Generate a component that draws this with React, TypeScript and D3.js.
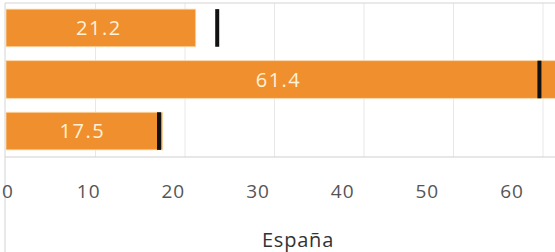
import React, { useEffect, useRef } from 'react';
import * as d3 from 'd3';

// data
const categories = ['A', 'B', 'C'];
const values = [21.2, 61.4, 17.5];
const targets = [23.6, 59.6, 17.1];
const tickValues = [0, 10, 20, 30, 40, 50, 60];
const axisTitle = 'España';

const W = 555;
const H = 252;

const App = () => {
  const ref = useRef<SVGSVGElement | null>(null);

  useEffect(() => {
    if (!ref.current) return;
    const svg = d3.select(ref.current);
    svg.selectAll('*').remove();

    const font = '"Open Sans", "Noto Sans", sans-serif';
    const left = 6;
    const top = 3;
    const bottom = 157;

    const x = d3.scaleLinear().domain([0, 60]).range([left, left + 60 * 8.95]);
    // tick labels sit a little left of the gridlines in the reference
    const xLabel = d3.scaleLinear().domain([0, 60]).range([4, 512]);
    const y = d3.scaleBand().domain(categories).range([top + 2, bottom - 3]).paddingInner(0.27).paddingOuter(0.08);

    // gridlines
    svg.append('g')
      .selectAll('line')
      .data(tickValues.slice(1))
      .join('line')
      .attr('x1', d => x(d)).attr('x2', d => x(d))
      .attr('y1', top).attr('y2', bottom)
      .attr('stroke', '#e8e8e8')
      .attr('stroke-width', 1);

    // frame
    svg.append('line').attr('x1', 5).attr('x2', W).attr('y1', top).attr('y2', top)
      .attr('stroke', '#d4d4d4');
    svg.append('line').attr('x1', 5).attr('x2', W).attr('y1', bottom).attr('y2', bottom)
      .attr('stroke', '#cfcfcf');
    svg.append('line').attr('x1', 5).attr('x2', 5).attr('y1', top).attr('y2', H)
      .attr('stroke', '#d4d4d4');

    const rows = categories.map((c, i) => ({ c, v: values[i], t: targets[i] }));

    // bars
    svg.append('g')
      .selectAll('rect')
      .data(rows)
      .join('rect')
      .attr('x', x(0))
      .attr('y', d => y(d.c)!)
      .attr('width', d => x(d.v) - x(0))
      .attr('height', y.bandwidth())
      .attr('fill', '#f08f2e')
      .attr('stroke', '#fbd9a8')
      .attr('stroke-width', 0.8);

    // reference markers
    svg.append('g')
      .selectAll('rect')
      .data(rows)
      .join('rect')
      .attr('x', d => x(d.t) - 2)
      .attr('y', d => y(d.c)!)
      .attr('width', 4)
      .attr('height', y.bandwidth())
      .attr('fill', '#111');

    // value labels
    svg.append('g')
      .selectAll('text')
      .data(rows)
      .join('text')
      .attr('x', d => (x(0) + Math.min(x(d.v), W)) / 2 - 2)
      .attr('y', d => y(d.c)! + y.bandwidth() / 2)
      .attr('dy', '0.35em')
      .attr('text-anchor', 'middle')
      .attr('fill', '#fff2d6')
      .style('font-family', font)
      .style('font-size', '20px')
      .style('letter-spacing', '1.5px')
      .text(d => d.v.toFixed(1));

    // tick labels
    svg.append('g')
      .selectAll('text')
      .data(tickValues)
      .join('text')
      .attr('x', d => Math.max(xLabel(d), 8))
      .attr('y', 191)
      .attr('dy', '0.35em')
      .attr('text-anchor', 'middle')
      .attr('fill', '#555')
      .style('font-family', font)
      .style('font-size', '19px')
      .style('letter-spacing', '1px')
      .text(d => String(d));

    // axis title
    svg.append('text')
      .attr('x', 298)
      .attr('y', 240)
      .attr('dy', '0.35em')
      .attr('text-anchor', 'middle')
      .attr('fill', '#333')
      .style('font-family', font)
      .style('font-size', '20px')
      .style('letter-spacing', '0.8px')
      .text(axisTitle);
  }, []);

  return (
    <svg
      ref={ref}
      width={W}
      height={H}
      style={{ position: 'fixed', left: 0, top: 0, background: '#fff' }}
    />
  );
};

export default App;
